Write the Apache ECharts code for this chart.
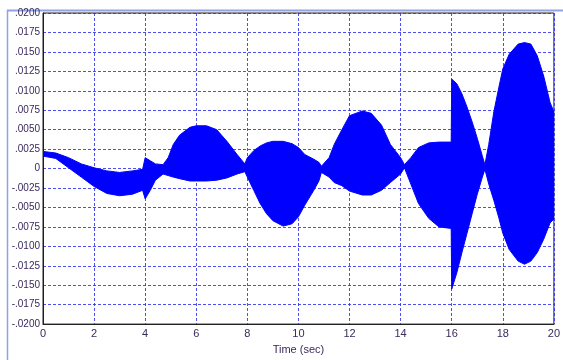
<!DOCTYPE html>
<html>
<head>
<meta charset="utf-8">
<script src="https://cdn.jsdelivr.net/npm/echarts@6/dist/echarts.min.js"></script>
<style>
html,body{margin:0;padding:0;background:#fff;}
#chart{width:563px;height:360px;}
</style>
</head>
<body>
<div id="chart"></div>
<script>
// Envelope of the oscillating signal
const timeSec = [0, 0.5, 1.0, 1.5, 2.0, 2.5, 3.0, 3.5, 3.9, 4.0, 4.2, 4.4, 4.7, 4.9, 5.1, 5.35, 5.75, 6.0, 6.4, 6.8, 7.2, 7.6, 7.9, 8.0, 8.25, 8.5, 8.75, 9.0, 9.4, 9.75, 10.0, 10.25, 10.6, 10.8, 10.9, 11.2, 11.4, 11.7, 12.0, 12.5, 12.85, 13.25, 13.6, 14.0, 14.15, 14.4, 14.7, 15.1, 15.5, 15.98, 16.0, 16.2, 16.4, 16.6, 16.8, 17.0, 17.2, 17.3, 17.45, 17.65, 17.85, 18.0, 18.25, 18.6, 18.85, 19.1, 19.35, 19.6, 19.85, 20.0];
const lowerEnv = [0.0016, 0.0013, 0.0001, -0.0011, -0.0023, -0.0032, -0.0035, -0.0033, -0.0028, -0.0039, -0.0028, -0.0015, -0.0007, -0.0009, -0.0011, -0.0013, -0.0016, -0.0016, -0.0016, -0.0015, -0.0012, -0.0007, -0.0004, -0.0011, -0.0028, -0.0045, -0.0058, -0.0067, -0.0074, -0.0071, -0.0062, -0.0047, -0.0028, -0.0016, -0.0005, -0.0011, -0.0018, -0.0022, -0.0029, -0.0034, -0.0034, -0.0028, -0.0018, -0.0007, 0.0001, -0.0020, -0.0045, -0.0064, -0.0075, -0.0077, -0.0155, -0.0134, -0.0108, -0.0083, -0.0058, -0.0033, -0.0011, -0.0001, -0.0020, -0.0041, -0.0064, -0.0083, -0.0104, -0.0119, -0.0123, -0.0119, -0.0108, -0.0091, -0.0070, -0.0065];
const upperEnv = [0.0022, 0.0020, 0.0014, 0.0006, 0.0001, -0.0003, -0.0005, -0.0003, -0.0001, 0.0014, 0.0010, 0.0006, 0.0005, 0.0014, 0.0031, 0.0043, 0.0053, 0.0055, 0.0055, 0.0050, 0.0035, 0.0018, 0.0006, 0.0014, 0.0023, 0.0029, 0.0033, 0.0035, 0.0035, 0.0032, 0.0027, 0.0018, 0.0012, 0.0008, 0.0003, 0.0014, 0.0031, 0.0050, 0.0068, 0.0074, 0.0071, 0.0056, 0.0031, 0.0014, 0.0005, 0.0014, 0.0027, 0.0033, 0.0034, 0.0034, 0.0115, 0.0109, 0.0096, 0.0079, 0.0060, 0.0039, 0.0016, 0.0005, 0.0031, 0.0073, 0.0105, 0.0128, 0.0147, 0.0160, 0.0162, 0.0160, 0.0145, 0.0119, 0.0085, 0.0073];
const xTickLabels = ['0', '2', '4', '6', '8', '10', '12', '14', '16', '18', '20'];
const yTickLabels = ['-.0200', '-.0175', '-.0150', '-.0125', '-.0100', '-.0075', '-.0050', '-.0025', '0', '.0025', '.0050', '.0075', '.0100', '.0125', '.0150', '.0175', '.0200'];

const data = timeSec.map((t, i) => [t, lowerEnv[i], upperEnv[i]]);

const chart = echarts.init(document.getElementById('chart'), null, {renderer: 'canvas'});
const labelFont = {color: '#3a2a5a', fontFamily: 'Liberation Sans, Arial, sans-serif', fontSize: 11};
const yLabelFont = {color: '#3a2a5a', fontFamily: 'Liberation Sans, Arial, sans-serif', fontSize: 10};
const gridLine = {show: true, lineStyle: {color: '#2f2ff0', width: 1, type: [3, 2], opacity: 0.85}};

chart.setOption({
  animation: false,
  backgroundColor: '#ffffff',
  grid: {left: 43, right: 7, top: 13, bottom: 31, show: true, borderColor: '#222', borderWidth: 1, containLabel: false},
  xAxis: {
    type: 'value', min: 0, max: 20, interval: 2,
    name: 'Time (sec)', nameLocation: 'middle', nameGap: 19,
    nameTextStyle: labelFont,
    axisLine: {show: true, onZero: false, lineStyle: {color: '#222'}},
    axisTick: {show: false},
    axisLabel: Object.assign({margin: 4, formatter: v => xTickLabels[Math.round(v / 2)]}, labelFont),
    splitLine: gridLine
  },
  yAxis: {
    type: 'value', min: -0.02, max: 0.02, interval: 0.0025,
    axisLine: {show: true, onZero: false, lineStyle: {color: '#0000ff'}},
    axisTick: {show: false},
    axisLabel: Object.assign({margin: 3, formatter: v => yTickLabels[Math.round((v + 0.02) / 0.0025)]}, yLabelFont),
    splitLine: gridLine
  },
  graphic: [
    {type: 'line', shape: {x1: 7, y1: 10.5, x2: 563, y2: 10.5}, style: {stroke: '#8fa3e3', lineWidth: 2}, silent: true},
    {type: 'line', shape: {x1: 7.5, y1: 10, x2: 7.5, y2: 360}, style: {stroke: '#8fa3e3', lineWidth: 1.5}, silent: true}
  ],
  series: [{
    type: 'custom',
    coordinateSystem: 'cartesian2d',
    data: data,
    clip: true,
    encode: {x: 0, y: [1, 2]},
    renderItem: function (params, api) {
      if (params.dataIndex !== 0) return null;
      const pts = [];
      for (let i = 0; i < data.length; i++) pts.push(api.coord([data[i][0], data[i][2]]));
      for (let i = data.length - 1; i >= 0; i--) pts.push(api.coord([data[i][0], data[i][1]]));
      return {
        type: 'polygon',
        shape: {points: pts},
        style: {fill: '#0000ff', stroke: '#0000ff', lineWidth: 1}
      };
    },
    z: 3
  }]
});
</script>
</body>
</html>
